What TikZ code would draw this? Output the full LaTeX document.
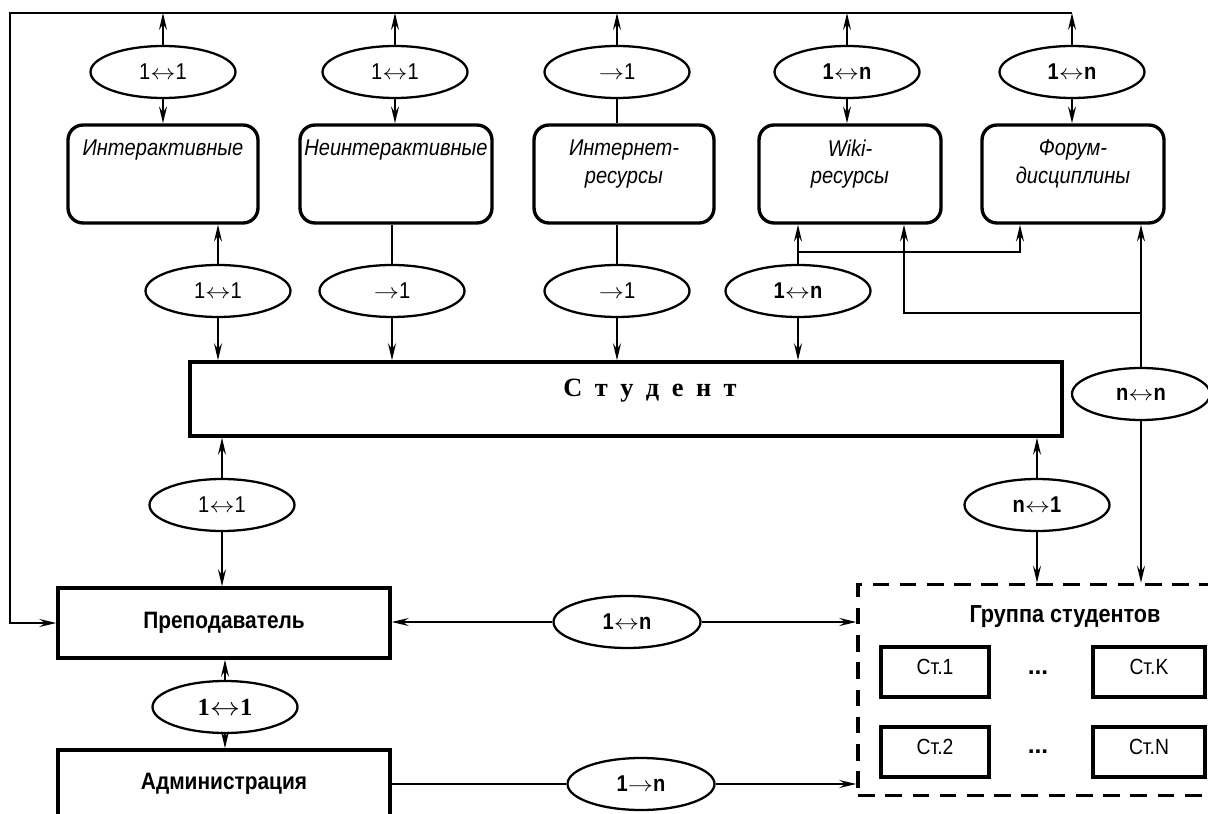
\documentclass[tikz,border=0pt]{standalone}
\usepackage{fontspec}
\setmainfont{Liberation Sans}
\newfontfamily\condsans{Liberation Sans}[FakeStretch=0.88]
\newfontfamily\serifrm{Liberation Serif}
\newfontfamily\spacedserif{Liberation Serif}[WordSpace=1.9]
\newcommand\dlink{\scalebox{1.2}[1]{$\leftrightarrow$}}
\newcommand\slink{\scalebox{1.2}[1]{$\rightarrow$}}
\usetikzlibrary{shapes.geometric,arrows.meta}

\begin{document}
\begin{tikzpicture}
    [
    x=0.02cm, y=-0.02cm,
    line width=1.1pt,
    >={Stealth[length=3.4mm,width=1.6mm,inset=1.2mm]},
    every node/.style = {font=\condsans\fontsize{13}{15.5}\selectfont},
    rel/.style        = {ellipse, draw, line width=1.3pt, minimum width=2.9cm, minimum height=1.04cm, inner sep=0pt},
    res/.style        = {draw, rounded corners=0.3cm, line width=1.9pt, minimum width=3.7cm, minimum height=1.96cm,
                         label={[anchor=north, align=center, yshift=-0.2cm, font=\condsans\fontsize{13}{15.5}\selectfont\itshape]north:#1}},
    actor/.style      = {draw, line width=2pt, minimum width=6.64cm, font=\condsans\fontsize{13.5}{15.5}\selectfont\bfseries},
    member/.style     = {draw, line width=1.9pt, minimum width=2.16cm, minimum height=1cm,
                         text height=8.6pt, text depth=6pt, font=\condsans\fontsize{12.5}{14}\selectfont}
    ]
    \useasboundingbox (0,0) rectangle (1208,814);

    % resources
    \node [rel] (t1) at (163,72) {1\dlink1};
    \node [rel] (t2) at (395,72) {1\dlink1};
    \node [rel] (t3) at (617,72) {\slink1};
    \node [rel] (t4) at (847,72) {\bfseries 1\dlink n};
    \node [rel] (t5) at (1072,72) {\bfseries 1\dlink n};
    \node [res={Интерактивные}, minimum width=3.8cm] (b1) at (163,174) {};
    \node [res={Неинтерактивные}, minimum width=3.84cm] (b2) at (396,174) {};
    \node [res={Интернет-\\ресурсы}, minimum width=3.6cm] (b3) at (624,174) {};
    \node [res={Wiki-\\ресурсы}, minimum width=3.64cm] (b4) at (850,174) {};
    \node [res={Форум-\\дисциплины}, minimum width=3.64cm] (b5) at (1073,174) {};

    % student
    \node [rel] (m1) at (218,291) {1\dlink1};
    \node [rel] (m2) at (392,291) {\slink1};
    \node [rel] (m3) at (617,291) {\slink1};
    \node [rel] (m4) at (798,291) {\bfseries 1\dlink n};
    \node [draw, line width=2pt, minimum width=17.44cm, minimum height=1.48cm,
           label={[xshift=0.48cm, yshift=0.16cm, font=\spacedserif\bfseries\fontsize{15}{18}\selectfont]center:С т у д е н т}]
           (st) at (626,399) {};
    \node [rel, minimum width=2.76cm] (nn) at (1141,394) {\bfseries n\dlink n};
    \node [rel] (l1) at (222,505) {1\dlink1};
    \node [rel] (n1) at (1037,505) {\bfseries n\dlink1};

    % teacher, administration
    \node [actor, minimum height=1.4cm] (prep) at (224,623) {Преподаватель};
    \node [rel, font=\serifrm\bfseries\fontsize{14}{16}\selectfont] (pa) at (225,707) {1\dlink1};
    \node [actor, minimum height=1.36cm] (adm) at (224,784) {Администрация};
    \node [rel, minimum width=2.94cm] (pg) at (627,622) {\bfseries 1\dlink n};
    \node [rel, minimum width=2.94cm] (ag) at (641,784) {\bfseries 1\slink n};

    % group
    \node [draw, line width=2pt, dash pattern=on 9.5pt off 6pt, minimum width=8.28cm, minimum height=4.22cm,
           label={[anchor=north, yshift=-0.32cm, font=\condsans\fontsize{14}{16}\selectfont\bfseries]north:Группа студентов}]
           (grp) at (1065,690) {};
    \node [member] (s1) at (935,672) {Ст.1};
    \node [member, minimum width=2.24cm] (sk) at (1149,672) {Ст.K};
    \node [member] (s2) at (935,752) {Ст.2};
    \node [member, minimum width=2.24cm] (sn) at (1149,752) {Ст.N};
    \node [font=\fontsize{14}{16}\selectfont\bfseries] (d1) at (1038,673) {...};
    \node [font=\fontsize{14}{16}\selectfont\bfseries] (d2) at (1038,752) {...};

    % connectors
    \coordinate (corner) at (10,13);
    \coordinate (fork) at (798,252);
    \coordinate (fin) at (1020,252);
    \coordinate (nin) at (904,313);
    \draw [->] (t5.north |- corner) -- (corner) |- (prep.west);
    \foreach \n in {1,...,5}
        \draw [->] (t\n.north) -- (t\n.north |- corner);
    \foreach \n in {1,2,4,5}
        \draw [->] (t\n.south) -- (t\n.south |- b\n.north);
    \draw (t3.south) -- (t3.south |- b3.north);
    \draw [->] (m1.north) -- (m1.north |- b1.south);
    \draw (m2.north) -- (m2.north |- b2.south);
    \draw (m3.north) -- (m3.north |- b3.south);
    \draw [->] (m4.north) -- (fork) -- (fork |- b4.south);
    \draw [->] (fork) -- (fin) -- (fin |- b5.south);
    \foreach \n in {1,...,4}
        \draw [->] (m\n.south) -- (m\n.south |- st.north);
    \draw [->] (nn.north) -- (nn.north |- b5.south);
    \draw [->] (nn.north |- nin) -- (nin) -- (nin |- b4.south);
    \draw [->] (nn.south) -- (nn.south |- grp.north);
    \draw [->] (l1.north) -- (l1.north |- st.south);
    \draw [->] (l1.south) -- (l1.south |- prep.north);
    \draw [->] (n1.north) -- (n1.north |- st.south);
    \draw [->] (n1.south) -- (n1.south |- grp.north);
    \draw [->] (pa.north) -- (pa.north |- prep.south);
    \draw [->] (pa.south) -- (pa.south |- adm.north);
    \draw [->] (pg.west) -- (pg.west -| prep.east);
    \draw [->] (pg.east) -- (pg.east -| grp.west);
    \draw (adm.east) -- (adm.east -| ag.west);
    \draw [->] (ag.east) -- (ag.east -| grp.west);
\end{tikzpicture}
\end{document}
